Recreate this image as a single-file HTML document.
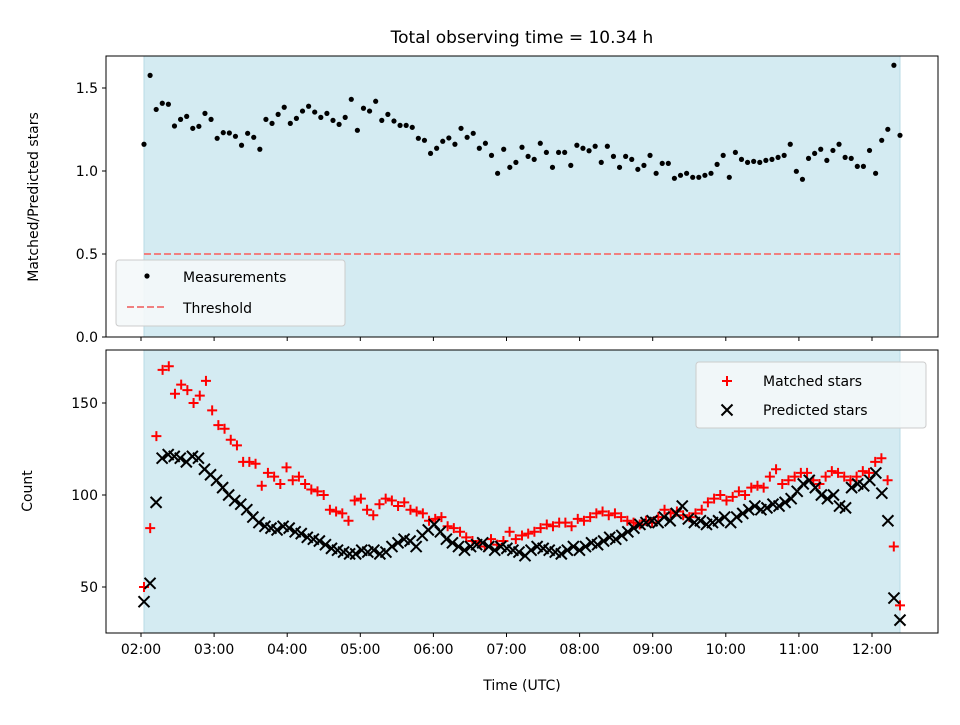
<!DOCTYPE html>
<html><head><meta charset="utf-8"><style>
body{margin:0;background:#fff}
svg text{font-family:"DejaVu Sans","Liberation Sans",sans-serif;fill:#000}
</style></head><body>
<svg id="c" width="960" height="720" xmlns="http://www.w3.org/2000/svg"></svg>
<script>
const ratio=[1.161,1.576,1.371,1.408,1.402,1.271,1.311,1.329,1.257,1.269,1.347,1.311,1.197,1.231,1.229,1.209,1.155,1.227,1.203,1.131,1.311,1.287,1.341,1.384,1.287,1.317,1.361,1.390,1.355,1.323,1.347,1.305,1.281,1.323,1.432,1.245,1.378,1.361,1.420,1.305,1.341,1.301,1.275,
1.275,1.263,1.197,1.185,1.106,1.137,1.179,1.199,1.161,1.257,1.203,1.227,1.137,1.167,1.094,0.986,1.131,1.022,1.052,1.143,1.088,1.070,1.167,1.112,1.022,1.112,1.112,1.034,1.155,1.137,1.122,1.149,1.052,1.149,1.088,1.022,1.088,1.070,1.010,1.034,1.094,
0.986,1.046,1.046,0.956,0.974,0.986,0.962,0.962,0.974,0.986,1.040,1.094,0.962,1.112,1.070,1.052,1.058,1.052,1.064,1.070,1.082,1.094,1.161,0.998,0.950,1.076,1.106,1.131,1.064,1.124,1.161,1.082,1.076,1.028,1.028,1.124,0.986,1.185,1.251,1.637,1.215];
const predicted=[42,52,96,120,122,121,120,118,121,120,114,111,108,104,100,97,95,92,88,85,83,82,81,83,82,80,79,77,76,75,73,71,70,69,68,68,70,69,70,68,69,72,74,76,75,72,78,81,84,80,76,74,72,70,72,73,74,72,70,72,71,70,69,67,70,72,71,70,69,68,70,72,70,72,74,73,75,77,76,78,80,82,84,85,86,85,88,86,90,94,87,85,86,84,85,86,88,85,88,90,92,94,92,93,95,94,96,98,102,106,108,104,100,98,100,94,93,104,106,105,108,112,101,86,44,32];
const matched=[50,82,132,168,170,155,160,157,150,154,162,146,138,136,130,127,118,118,117,105,112,110,106,115,108,110,106,103,102,100,92,91,90,86,97,98,92,89,95,98,97,94,96,92,91,90,86,87,88,83,82,80,77,75,74,72,76,73,75,80,76,78,79,80,82,84,83,85,85,83,87,86,88,90,91,89,90,88,86,85,84,86,85,88,92,90,91,89,88,90,92,96,98,100,97,99,102,100,104,105,104,110,114,106,108,110,112,112,108,106,110,113,112,110,108,110,113,112,118,120,108,72,40];
const xTicks=["02:00","03:00","04:00","05:00","06:00","07:00","08:00","09:00","10:00","11:00","12:00"];
const tStart=2.041,tEnd=12.383,threshold=0.5;
const NS="http://www.w3.org/2000/svg",svg=document.getElementById('c');
function el(t,a,p){const e=document.createElementNS(NS,t);for(const k in a)e.setAttribute(k,a[k]);(p||svg).appendChild(e);return e;}
const X=h=>141+(h-2)*73.1;
const Yt=v=>337-v*166;
const Yb=v=>587-(v-50)*1.84;
const tOf=(i,n)=>tStart+i*(tEnd-tStart)/(n-1);
const L=106,R=938;
[[56,337,'top-panel'],[350,633,'bottom-panel']].forEach(([t,b,n])=>{
 const g=el('g',{});
 const s=el('rect',{x:X(tStart),y:t,width:X(tEnd)-X(tStart),height:b-t,fill:'#d4ebf2',stroke:'#b9dbe6','stroke-width':1},g);
 
});
const gd=el('g',{});
ratio.forEach((v,i)=>{const c=el('circle',{cx:X(tOf(i,ratio.length)),cy:Yt(v),r:2.6,fill:'#000'},gd);});
const th=el('line',{x1:X(tStart),x2:X(tEnd),y1:Yt(threshold),y2:Yt(threshold),stroke:'#f08080','stroke-width':2,'stroke-dasharray':'7,3'});

function plus(x,y,g,col){el('path',{d:`M${x-5},${y}H${x+5}M${x},${y-5}V${y+5}`,stroke:col,'stroke-width':2,fill:'none'},g);}
function cross(x,y,g){el('path',{d:`M${x-5.5},${y-5.5}L${x+5.5},${y+5.5}M${x-5.5},${y+5.5}L${x+5.5},${y-5.5}`,stroke:'#000','stroke-width':2,fill:'none'},g);}
const gm=el('g',{});
matched.forEach((v,i)=>plus(X(tOf(i,matched.length)),Yb(v),gm,'#f00'));
const gp=el('g',{});
predicted.forEach((v,i)=>cross(X(tOf(i,predicted.length)),Yb(v),gp));
el('rect',{x:L,y:56,width:R-L,height:281,fill:'none',stroke:'#000','stroke-width':1});
el('rect',{x:L,y:350,width:R-L,height:283,fill:'none',stroke:'#000','stroke-width':1});
xTicks.forEach((lab,i)=>{const x=X(2+i);
 el('line',{x1:x,x2:x,y1:337,y2:341,stroke:'#000'});
 el('line',{x1:x,x2:x,y1:633,y2:637,stroke:'#000'});
 const t=el('text',{x:x,y:654,'text-anchor':'middle','font-size':14});t.textContent=lab;
 });
[0,0.5,1.0,1.5].forEach(v=>{const y=Yt(v);el('line',{x1:L-4,x2:L,y1:y,y2:y,stroke:'#000'});
 const t=el('text',{x:L-8,y:y+5,'text-anchor':'end','font-size':14});t.textContent=v.toFixed(1);
 });
[50,100,150].forEach(v=>{const y=Yb(v);el('line',{x1:L-4,x2:L,y1:y,y2:y,stroke:'#000'});
 const t=el('text',{x:L-8,y:y+5,'text-anchor':'end','font-size':14});t.textContent=v;
 });
function txt(s,a,n){const t=el('text',a);t.textContent=s;return t;}
txt('Total observing time = 10.34 h',{x:522,y:43,'text-anchor':'middle','font-size':17},'chart-title');
txt('Time (UTC)',{x:522,y:690,'text-anchor':'middle','font-size':14},'x-axis-title');
txt('Matched/Predicted stars',{x:38,y:197,'text-anchor':'middle','font-size':14,transform:'rotate(-90 38 197)'},'top-y-axis-title');
txt('Count',{x:32,y:491,'text-anchor':'middle','font-size':14,transform:'rotate(-90 32 491)'},'bottom-y-axis-title');
const lg1=el('g',{});
el('rect',{x:116,y:260,width:229,height:66,rx:3,fill:'#f4f8fa','fill-opacity':0.9,stroke:'#ccc'},lg1);
el('circle',{cx:147,cy:276,r:2.6,fill:'#000'},lg1);
el('line',{x1:127,x2:167,y1:307,y2:307,stroke:'#f08080','stroke-width':2,'stroke-dasharray':'7,3'},lg1);
txt('Measurements',{x:183,y:282,'font-size':14},'legend-measurements');
txt('Threshold',{x:183,y:313,'font-size':14},'legend-threshold');
const lg2=el('g',{});
el('rect',{x:696,y:362,width:230,height:66,rx:3,fill:'#f4f8fa','fill-opacity':0.9,stroke:'#ccc'},lg2);
plus(727,381,lg2,'#f00');cross(727,410,lg2);
txt('Matched stars',{x:763,y:386,'font-size':14},'legend-matched');
txt('Predicted stars',{x:763,y:415,'font-size':14},'legend-predicted');
</script>
</body></html>
